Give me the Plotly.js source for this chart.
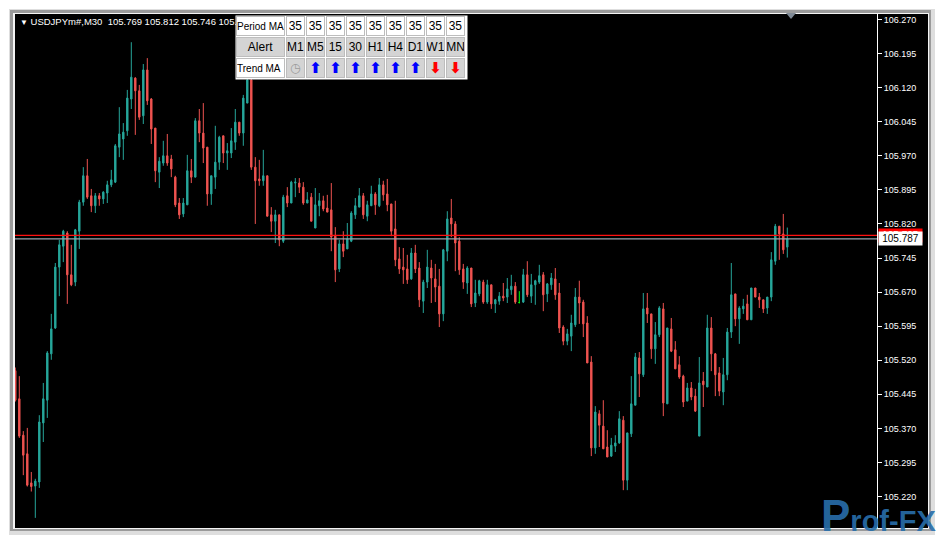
<!DOCTYPE html>
<html>
<head>
<meta charset="utf-8">
<script src="https://cdn.plot.ly/plotly-3.0.1.min.js"></script>
<style>
html,body{margin:0;padding:0;background:#ffffff;}
#chart{width:936px;height:541px;}
</style>
</head>
<body>
<div id="chart"></div>
<script>
// ---------- DATA ----------
const symbolLabel = 'USDJPYm#,M30';

const opens = [
105.497,105.435,105.355,105.314,105.250,105.243,105.252,105.382,105.432,105.534,
105.591,105.725,105.771,105.800,105.708,105.692,105.804,105.868,105.926,105.882,
105.860,105.882,105.875,105.888,105.906,105.912,105.989,106.007,106.025,106.095,
106.141,106.113,106.058,106.159,106.095,106.031,105.934,105.954,105.970,105.963,
105.923,105.866,105.842,105.862,105.937,105.923,106.047,106.020,105.989,105.886,
105.923,105.956,106.014,105.976,105.976,106.000,106.044,106.020,106.086,106.137,
105.945,105.919,105.915,105.926,105.840,105.826,105.840,105.782,105.882,105.866,
105.910,105.910,105.901,105.866,105.879,105.811,105.860,105.871,105.855,105.851,
105.793,105.721,105.776,105.765,105.782,105.840,105.857,105.882,105.837,105.860,
105.886,105.860,105.906,105.886,105.864,105.809,105.743,105.725,105.721,105.699,
105.756,105.723,105.650,105.692,105.723,105.699,105.683,105.622,105.760,105.833,
105.820,105.782,105.721,105.690,105.723,105.646,105.666,105.692,105.648,105.686,
105.644,105.650,105.661,105.659,105.675,105.683,105.647,105.648,105.708,105.661,
105.686,105.692,105.708,105.666,105.686,105.699,105.668,105.593,105.562,105.573,
105.598,105.659,105.648,105.602,105.516,105.327,105.402,105.375,105.329,105.309,
105.331,105.338,105.388,105.256,105.358,105.421,105.525,105.488,105.635,105.622,
105.545,105.576,105.633,105.424,105.589,105.543,105.510,105.485,105.430,105.459,
105.441,105.353,105.474,105.461,105.591,105.534,105.492,105.450,105.488,105.582,
105.666,105.611,105.633,105.644,105.609,105.679,105.659,105.653,105.635,105.659,
105.738,105.815,105.798,105.769
];
const highs = [
105.504,105.485,105.364,105.371,105.274,105.259,105.399,105.470,105.540,105.622,
105.734,105.785,105.807,105.804,105.774,105.809,105.873,105.945,105.963,105.897,
105.888,105.888,105.892,105.915,105.939,105.996,106.077,106.042,106.115,106.220,
106.143,106.126,106.172,106.185,106.097,106.031,105.967,106.003,106.018,105.972,
105.926,105.877,105.877,105.972,105.963,106.053,106.073,106.086,105.989,105.926,
106.036,106.014,106.014,105.998,106.031,106.073,106.044,106.104,106.209,106.161,
105.967,105.961,105.983,105.926,105.857,105.851,105.840,105.884,105.901,105.915,
105.921,105.921,105.912,105.890,105.888,105.899,105.888,105.882,105.884,105.910,
105.813,105.785,105.804,105.822,105.848,105.877,105.899,105.888,105.871,105.904,
105.890,105.921,105.915,105.919,105.864,105.871,105.769,105.767,105.752,105.767,
105.774,105.736,105.697,105.763,105.741,105.732,105.721,105.765,105.848,105.875,
105.826,105.791,105.732,105.727,105.723,105.697,105.697,105.697,105.697,105.686,
105.655,105.670,105.690,105.701,105.708,105.692,105.672,105.721,105.738,105.710,
105.697,105.730,105.714,105.690,105.712,105.723,105.690,105.597,105.589,105.620,
105.679,105.695,105.653,105.617,105.529,105.419,105.410,105.432,105.366,105.349,
105.355,105.408,105.397,105.360,105.485,105.536,105.538,105.668,105.668,105.622,
105.604,105.639,105.646,105.591,105.613,105.562,105.529,105.488,105.470,105.472,
105.457,105.527,105.494,105.620,105.615,105.536,105.505,105.525,105.591,105.734,
105.666,105.639,105.655,105.664,105.679,105.679,105.668,105.653,105.659,105.758,
105.820,105.815,105.842,105.812
];
const lows = [
105.429,105.349,105.267,105.242,105.231,105.173,105.239,105.340,105.393,105.521,
105.589,105.661,105.736,105.644,105.683,105.683,105.765,105.860,105.875,105.846,
105.844,105.860,105.864,105.866,105.901,105.910,105.967,105.961,106.014,106.073,
106.016,106.049,106.040,106.082,105.996,105.912,105.899,105.948,105.948,105.923,
105.857,105.831,105.835,105.862,105.910,105.923,106.000,105.954,105.860,105.862,
105.897,105.939,105.954,105.939,105.965,105.983,106.014,105.992,106.086,105.939,
105.820,105.904,105.904,105.837,105.802,105.778,105.771,105.778,105.857,105.866,
105.879,105.888,105.862,105.866,105.826,105.811,105.837,105.848,105.846,105.760,
105.692,105.714,105.747,105.765,105.780,105.831,105.857,105.831,105.826,105.860,
105.840,105.857,105.871,105.848,105.793,105.727,105.710,105.688,105.688,105.697,
105.712,105.637,105.624,105.679,105.646,105.648,105.593,105.606,105.738,105.791,
105.716,105.708,105.677,105.666,105.637,105.637,105.661,105.644,105.644,105.633,
105.624,105.642,105.650,105.646,105.664,105.644,105.645,105.646,105.659,105.646,
105.642,105.688,105.628,105.648,105.675,105.653,105.580,105.553,105.553,105.540,
105.593,105.600,105.571,105.514,105.309,105.314,105.329,105.325,105.307,105.307,
105.318,105.336,105.234,105.234,105.351,105.421,105.439,105.483,105.602,105.523,
105.512,105.571,105.397,105.424,105.538,105.501,105.479,105.417,105.430,105.432,
105.406,105.353,105.417,105.461,105.496,105.441,105.441,105.421,105.476,105.569,
105.595,105.556,105.622,105.609,105.609,105.659,105.635,105.624,105.622,105.650,
105.730,105.741,105.754,105.746
];
const closes = [
105.432,105.353,105.311,105.245,105.242,105.254,105.384,105.435,105.536,105.589,
105.725,105.774,105.804,105.708,105.686,105.807,105.868,105.926,105.879,105.860,
105.882,105.875,105.890,105.906,105.917,105.992,106.018,106.022,106.097,106.143,
106.113,106.055,106.159,106.091,106.029,105.937,105.958,105.970,105.954,105.941,
105.862,105.840,105.866,105.937,105.923,106.047,106.020,105.987,105.886,105.926,
105.956,106.011,105.976,105.981,106.003,106.044,106.020,106.097,106.137,105.945,
105.915,105.915,105.926,105.837,105.826,105.840,105.785,105.879,105.866,105.912,
105.912,105.901,105.866,105.873,105.826,105.862,105.871,105.853,105.846,105.791,
105.719,105.776,105.760,105.787,105.844,105.860,105.882,105.840,105.862,105.886,
105.862,105.906,105.884,105.862,105.804,105.741,105.721,105.719,105.697,105.756,
105.721,105.653,105.692,105.725,105.701,105.681,105.622,105.763,105.831,105.820,
105.778,105.719,105.692,105.723,105.644,105.668,105.695,105.648,105.686,105.644,
105.653,105.661,105.657,105.677,105.683,105.648,105.647,105.708,105.664,105.686,
105.695,105.706,105.664,105.688,105.701,105.664,105.591,105.562,105.578,105.602,
105.659,105.646,105.600,105.514,105.327,105.406,105.377,105.325,105.307,105.333,
105.338,105.391,105.256,105.360,105.424,105.527,105.490,105.633,105.622,105.545,
105.576,105.635,105.426,105.591,105.540,105.501,105.483,105.428,105.459,105.439,
105.408,105.470,105.466,105.591,105.534,105.488,105.452,105.488,105.582,105.664,
105.611,105.635,105.639,105.609,105.679,105.659,105.653,105.633,105.659,105.741,
105.815,105.798,105.763,105.787
];
const bidPrice = 105.787;
const askPrice = 105.795;
const priceTicks = [105.220,105.295,105.370,105.445,105.520,105.595,105.670,105.745,
                    105.820,105.895,105.970,106.045,106.120,106.195,106.270];

// indicator table
const periodLabel = 'Period MA';
const periodValues = ['35','35','35','35','35','35','35','35','35'];
const alertLabel = 'Alert';
const timeframes = ['M1','M5','15','30','H1','H4','D1','W1','MN'];
const trendLabel = 'Trend MA';
const trendSignals = ['none','up','up','up','up','up','up','down','down'];
const watermark = 'Prof-FX';

// ---------- LAYOUT HELPERS ----------
const W = 936, H = 541;
const L = 15, T = 14, PW = 862, PH = 514;
const px = x => (x - L) / PW;
const py = y => (T + PH - y) / PH;
const yTop = 106.2821, yBottom = 105.1507;

const barIndex = opens.map((_, i) => i);
const normalIdx = barIndex.filter(i => opens[i] !== closes[i]);
const dojiIdx = barIndex.filter(i => opens[i] === closes[i]);
const pick = (arr, idx) => idx.map(i => arr[i]);

const BULL = '#26a69a', BEAR = '#ef5350';

const traces = [
  {
    type: 'candlestick',
    x: pick(barIndex, normalIdx),
    open: pick(opens, normalIdx), high: pick(highs, normalIdx),
    low: pick(lows, normalIdx), close: pick(closes, normalIdx),
    increasing: {line: {color: BULL, width: 1}, fillcolor: BULL},
    decreasing: {line: {color: BEAR, width: 1}, fillcolor: BEAR},
    whiskerwidth: 0, hoverinfo: 'skip', showlegend: false
  },
  {
    type: 'candlestick',
    x: pick(barIndex, dojiIdx),
    open: pick(opens, dojiIdx), high: pick(highs, dojiIdx),
    low: pick(lows, dojiIdx), close: pick(closes, dojiIdx),
    increasing: {line: {color: '#00ff00', width: 1}, fillcolor: '#00ff00'},
    decreasing: {line: {color: '#00ff00', width: 1}, fillcolor: '#00ff00'},
    whiskerwidth: 0, hoverinfo: 'skip', showlegend: false
  }
];

const rect = (x0, y0, x1, y1, fill, layer) => ({
  type: 'rect', xref: 'paper', yref: 'paper', layer: layer || 'below',
  x0: px(x0), x1: px(x1), y0: py(y1), y1: py(y0),
  fillcolor: fill, line: {width: 0}
});

const shapes = [
  rect(9, 9, 935, 535, '#dedede'),
  rect(10, 10, 931, 531, '#9a9a9a'),
  rect(13, 13, 929, 529, '#f4f4f4'),
  rect(15, 14, 928, 528, '#000000'),
  {type: 'path', xref: 'paper', yref: 'paper', layer: 'above',
   path: `M ${px(786)} ${py(13)} L ${px(796)} ${py(13)} L ${px(791)} ${py(19)} Z`,
   fillcolor: '#7f8a96', line: {width: 0}},
  {type: 'line', xref: 'paper', yref: 'y', layer: 'above', x0: 0, x1: 1,
   y0: askPrice, y1: askPrice, line: {color: '#ff1010', width: 1.2}},
  {type: 'line', xref: 'paper', yref: 'y', layer: 'above', x0: 0, x1: 1,
   y0: bidPrice, y1: bidPrice, line: {color: '#9aa4ae', width: 1.2}}
];

const last = opens.length - 1;
const annotations = [];
const FONT = 'Liberation Sans, Arial, sans-serif';

// chart caption
annotations.push({
  xref: 'paper', yref: 'paper', x: px(18), y: py(22), xanchor: 'left', yanchor: 'middle',
  showarrow: false, align: 'left',
  text: '<span style="font-size:8px">▼</span>\u00a0' + symbolLabel + '\u00a0\u00a0' +
        [opens[last], highs[last], lows[last], closes[last]].map(v => v.toFixed(3)).join('\u00a0'),
  font: {family: FONT, size: 9.5, color: '#ffffff'}
});

// price labels on axis
annotations.push({
  xref: 'paper', yref: 'y', x: 1, y: askPrice, xanchor: 'left', yanchor: 'middle', xshift: 1,
  showarrow: false, text: askPrice.toFixed(3), width: 41, height: 11, borderpad: 1,
  bgcolor: '#ff0000', font: {family: FONT, size: 10, color: '#ffffff'}
});
annotations.push({
  xref: 'paper', yref: 'y', x: 1, y: bidPrice, xanchor: 'left', yanchor: 'middle', xshift: 1,
  showarrow: false, text: bidPrice.toFixed(3), width: 41, height: 11, borderpad: 1,
  bgcolor: '#ffffff', font: {family: FONT, size: 10, color: '#000000'}
});

// indicator table
function cell(x0, y0, w, h, text, bg, font, align) {
  annotations.push({
    xref: 'paper', yref: 'paper', x: px(x0 + w / 2), y: py(y0 + h / 2),
    xanchor: 'center', yanchor: 'middle', showarrow: false,
    width: w - 2, height: h - 2, borderpad: 0, borderwidth: 1, bordercolor: '#bdbdbd',
    bgcolor: bg, text: text, align: align || 'center', font: font
  });
}
annotations.push({
  xref: 'paper', yref: 'paper', x: px(235), y: py(15), xanchor: 'left', yanchor: 'top',
  showarrow: false, width: 231, height: 63, borderpad: 0, bgcolor: '#ffffff', text: ''
});
const rowY = [16, 37, 58], rowH = [20, 20, 20];
const smallF = {family: FONT, size: 10, color: '#000000'};
const bigF = {family: FONT, size: 12, color: '#000000'};
cell(236, rowY[0], 49, rowH[0], periodLabel, '#ffffff', smallF, 'left');
cell(236, rowY[1], 49, rowH[1], alertLabel, '#d4d4d4', bigF, 'center');
cell(236, rowY[2], 49, rowH[2], trendLabel, '#ffffff', smallF, 'left');
for (let k = 0; k < timeframes.length; k++) {
  const x0 = 286 + 20 * k;
  cell(x0, rowY[0], 19, rowH[0], periodValues[k], '#ffffff', bigF);
  cell(x0, rowY[1], 19, rowH[1], timeframes[k], '#d4d4d4', bigF);
  const s = trendSignals[k];
  let txt, f;
  if (s === 'up') { txt = '<b>⬆</b>'; f = {family: 'DejaVu Sans', size: 15, color: '#0000ff'}; }
  else if (s === 'down') { txt = '<b>⬇</b>'; f = {family: 'DejaVu Sans', size: 15, color: '#ff0000'}; }
  else { txt = '◷'; f = {family: 'DejaVu Sans', size: 12, color: '#9a9a9a'}; }
  cell(x0, rowY[2], 19, rowH[2], txt, '#d4d4d4', f);
}

// watermark
annotations.push({
  xref: 'paper', yref: 'paper', x: px(820), y: py(541), xanchor: 'left', yanchor: 'bottom',
  showarrow: false, borderpad: 0,
  text: '<b><span style="font-size:44px">' + watermark.charAt(0) + '</span>' + watermark.slice(1) + '</b>',
  font: {family: FONT, size: 29, color: 'rgba(40,110,170,0.92)'}
});

const layout = {
  width: W, height: H,
  margin: {l: L, r: W - L - PW, t: T, b: H - T - PH, pad: 0},
  paper_bgcolor: '#ffffff', plot_bgcolor: '#000000',
  showlegend: false, boxgap: 0.5,
  xaxis: {range: [-0.075, 215.425], visible: false, fixedrange: true,
          rangeslider: {visible: false}},
  yaxis: {range: [yBottom, yTop], side: 'right', showline: true, linecolor: '#ffffff',
          linewidth: 1, ticks: 'outside', ticklen: 4, tickwidth: 1, tickcolor: '#ffffff',
          tickvals: priceTicks, ticktext: priceTicks.map(v => v.toFixed(3)),
          tickfont: {family: FONT, size: 9, color: '#ffffff'},
          showgrid: false, zeroline: false, fixedrange: true},
  shapes: shapes,
  annotations: annotations
};

Plotly.newPlot('chart', traces, layout, {staticPlot: true, displayModeBar: false});
</script>
</body>
</html>
